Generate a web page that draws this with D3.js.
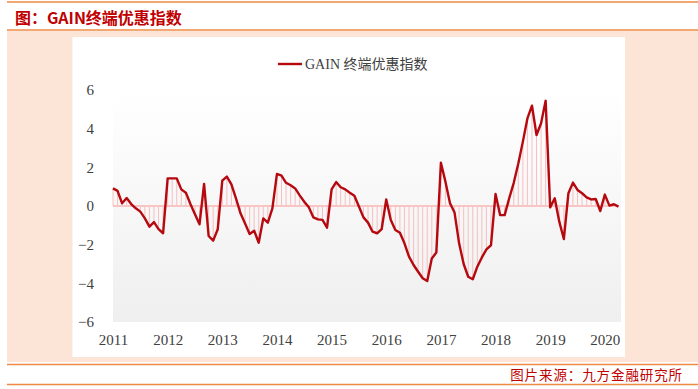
<!DOCTYPE html>
<html>
<head>
<meta charset="utf-8">
<script src="https://cdn.jsdelivr.net/npm/d3@7"></script>
<style>
  body { margin: 0; background: #fff; }
  svg { display: block; }
</style>
</head>
<body>
<svg id="drawing_region"></svg>
<script>
// monthly index, Jan 2011 - Apr 2020
const values = [
  0.91, 0.78, 0.14, 0.41, 0.10, -0.12, -0.29, -0.64, -1.07, -0.83, -1.20, -1.41,
  1.43, 1.43, 1.43, 0.86, 0.69, 0.10, -0.43, -0.95, 1.14, -1.55, -1.79, -1.20,
  1.31, 1.52, 1.12, 0.40, -0.38, -0.90, -1.45, -1.28, -1.90, -0.64, -0.86, -0.12,
  1.66, 1.57, 1.20, 1.07, 0.91, 0.55, 0.22, -0.07, -0.59, -0.69, -0.72, -1.12,
  0.86, 1.24, 0.97, 0.86, 0.69, 0.53, -0.03, -0.59, -0.86, -1.33, -1.41, -1.19,
  0.34, -0.72, -1.24, -1.38, -1.93, -2.62, -3.05, -3.40, -3.74, -3.88, -2.71, -2.41,
  2.24, 1.26, 0.14, -0.34, -1.93, -3.00, -3.66, -3.79, -3.14, -2.66, -2.24, -2.03,
  0.62, -0.47, -0.47, 0.40, 1.20, 2.20, 3.33, 4.53, 5.19, 3.67, 4.28, 5.45,
  -0.07, 0.40, -0.81, -1.71, 0.66, 1.21, 0.83, 0.66, 0.45, 0.34, 0.36, -0.26,
  0.59, 0.02, 0.09, -0.03
];
const yearLabels = ['2011', '2012', '2013', '2014', '2015', '2016', '2017', '2018', '2019', '2020'];
const yTicks = [-6, -4, -2, 0, 2, 4, 6];
const seriesName = 'GAIN 终端优惠指数';
const titleText = '图：GAIN终端优惠指数';
const sourceText = '图片来源：九方金融研究所';

const width = 698, height = 389;
const orange = '#ef8a45', peach = '#fce4d6', red = '#b5090f';

const svg = d3.select('#drawing_region')
    .attr('width', width)
    .attr('height', height);

// frame
svg.append('rect').attr('x', 7).attr('y', 31).attr('width', width - 7).attr('height', 331).attr('fill', peach);
svg.append('rect').attr('x', 72.5).attr('y', 37).attr('width', 552.5).attr('height', 320).attr('fill', '#fff');
[2, 30, 364.5, 384.5].forEach(y => {
    svg.append('line')
        .attr('x1', 7).attr('x2', width).attr('y1', y).attr('y2', y)
        .attr('stroke', orange).attr('stroke-width', 1.6);
});

svg.append('text')
    .attr('x', 15).attr('y', 24)
    .attr('font-family', '"Noto Sans CJK SC", sans-serif')
    .attr('font-weight', 'bold')
    .attr('font-size', 16)
    .attr('fill', '#c00000')
    .text(titleText);

svg.append('text')
    .attr('x', 683).attr('y', 380)
    .attr('text-anchor', 'end')
    .attr('font-family', '"Noto Sans CJK SC", sans-serif')
    .attr('font-size', 13.5)
    .attr('letter-spacing', 0.9)
    .attr('fill', '#c00000')
    .text(sourceText);

// scales
const plot = {left: 113, right: 621, top: 90, bottom: 322};

const x = d3.scaleLinear()
    .domain([0, values.length - 1])
    .range([plot.left, 618.5]);

const y = d3.scaleLinear()
    .domain([-6, 6])
    .range([plot.bottom, plot.top]);

// plot area gradient
const grad = svg.append('defs').append('linearGradient')
    .attr('id', 'plotbg').attr('x1', 0).attr('y1', 0).attr('x2', 0).attr('y2', 1);
grad.append('stop').attr('offset', '0%').attr('stop-color', '#ffffff');
grad.append('stop').attr('offset', '100%').attr('stop-color', '#efefef');

svg.append('rect')
    .attr('x', plot.left).attr('y', plot.top)
    .attr('width', plot.right - plot.left).attr('height', plot.bottom - plot.top)
    .attr('fill', 'url(#plotbg)');

// drop lines to zero
svg.append('g').selectAll('line')
    .data(values)
    .join('line')
    .attr('x1', (d, i) => x(i)).attr('x2', (d, i) => x(i))
    .attr('y1', y(0)).attr('y2', d => y(d))
    .attr('stroke', '#f6b9b9')
    .attr('stroke-width', 0.9);

svg.append('line')
    .attr('x1', plot.left).attr('x2', x(values.length - 1))
    .attr('y1', y(0)).attr('y2', y(0))
    .attr('stroke', '#f8c4c4')
    .attr('stroke-width', 1.8);

// main line
const line = d3.line()
    .x((d, i) => x(i))
    .y(d => y(d));

svg.append('path')
    .datum(values)
    .attr('d', line)
    .attr('fill', 'none')
    .attr('stroke', red)
    .attr('stroke-width', 2.4)
    .attr('stroke-linejoin', 'round');

// axes
const yaxis = d3.axisLeft(y)
    .tickValues(yTicks)
    .tickSize(0)
    .tickPadding(19)
    .tickFormat(d => d < 0 ? '\u2212' + Math.abs(d) : d);

const xaxis = d3.axisBottom(x)
    .tickValues(yearLabels.map((d, i) => i * 12))
    .tickSize(0)
    .tickPadding(12)
    .tickFormat(i => yearLabels[i / 12]);

const yg = svg.append('g')
    .attr('transform', `translate(${plot.left}, 0)`)
    .call(yaxis);
const xg = svg.append('g')
    .attr('transform', `translate(0, ${plot.bottom})`)
    .call(xaxis);

[yg, xg].forEach(g => {
    g.select('.domain').remove();
    g.selectAll('text')
        .attr('font-family', '"Liberation Serif", serif')
        .attr('font-size', 15)
        .attr('fill', '#404040');
});

// legend
svg.append('line')
    .attr('x1', 278).attr('x2', 302).attr('y1', 64).attr('y2', 64)
    .attr('stroke', red).attr('stroke-width', 2.4);
svg.append('text')
    .attr('x', 305).attr('y', 69)
    .attr('font-family', '"Liberation Serif", "Noto Sans CJK SC", serif')
    .attr('font-size', 14)
    .attr('fill', '#404040')
    .text(seriesName);
</script>
</body>
</html>
